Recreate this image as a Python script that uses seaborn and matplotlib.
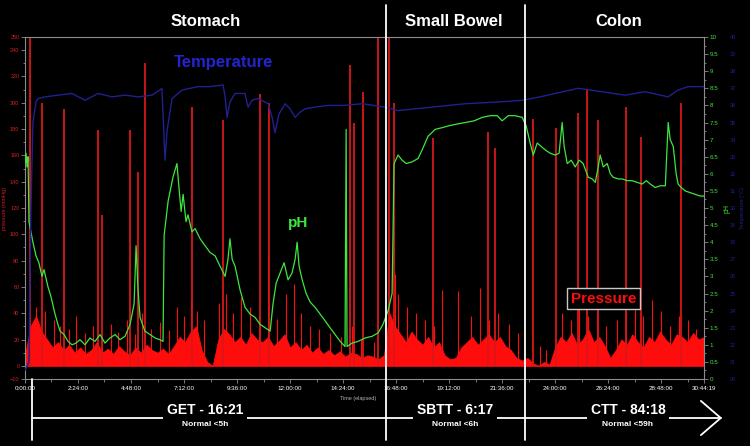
import numpy as np
import pandas as pd
import matplotlib.pyplot as plt
import seaborn as sns

# --------------------------------------
# DATA (time in hours)
# --------------------------------------

ph_time = [0, 0.05, 0.09, 0.14, 0.18, 0.27, 0.36, 0.50, 0.63, 0.77, 0.86, 1.04, 1.18, 1.36, 1.49,
           1.59, 1.77, 1.95, 2.13, 2.31, 2.49, 2.72, 2.94, 3.17, 3.40, 3.62, 3.85, 4.08, 4.30, 4.53,
           4.76, 4.94, 5.03, 5.12, 5.21, 5.43, 5.66, 5.89, 6.11, 6.25, 6.30, 6.48, 6.70, 6.88, 6.97,
           7.07, 7.16, 7.29, 7.38, 7.56, 7.70, 7.93, 8.15, 8.38, 8.61, 8.83, 9.06, 9.19, 9.28, 9.38,
           9.51, 9.74, 9.96, 10.19, 10.42, 10.64, 10.87, 11.10, 11.23, 11.37, 11.55, 11.73, 11.91,
           12.09, 12.23, 12.32, 12.41, 12.55, 12.73, 12.91, 13.13, 13.36, 13.59, 13.81, 14.04, 14.27,
           14.49, 14.54, 14.58, 14.81, 15.08, 15.40, 15.72, 15.99, 16.21, 16.44, 16.62, 16.71, 16.89,
           17.07, 17.26, 17.53, 17.80, 17.98, 18.25, 18.57, 18.89, 19.16, 19.52, 19.93, 20.34, 20.70,
           21.06, 21.38, 21.60, 21.88, 22.19, 22.51, 22.69, 22.87, 23.01, 23.19, 23.37, 23.55, 23.78,
           24.00, 24.18, 24.32, 24.41, 24.55, 24.73, 24.91, 25.09, 25.27, 25.50, 25.68, 25.82, 25.95,
           26.04, 26.18, 26.36, 26.50, 26.63, 26.86, 27.04, 27.26, 27.49, 27.72, 27.94, 28.13, 28.31,
           28.53, 28.76, 28.99, 29.12, 29.21, 29.35, 29.48, 29.57, 29.71, 29.89, 30.12, 30.34, 30.57,
           30.74]
ph_value = [6.3, 6.6, 6.2, 6.5, 4.6, 4.3, 4.0, 3.6, 3.4, 3.0, 3.2, 2.7, 2.4, 1.9, 1.6,
            1.4, 1.3, 1.1, 1.0, 1.05, 1.15, 1.0, 1.2, 1.1, 1.3, 1.05, 1.2, 1.3, 1.15, 1.25,
            1.6, 2.2, 3.9, 2.6, 1.8, 1.4, 1.3, 1.2, 1.15, 1.1, 4.2, 5.2, 5.9, 6.3, 5.6,
            4.9, 5.4, 4.6, 4.8, 4.3, 4.4, 4.1, 3.9, 3.7, 3.6, 3.3, 3.0, 3.5, 4.1, 3.5,
            3.3, 2.6, 2.1, 1.9, 1.8, 1.6, 1.5, 1.4, 2.2, 2.8, 3.1, 3.4, 2.9,
            3.1, 3.5, 4.0, 3.3, 2.9, 2.5, 2.25, 2.1, 1.9, 1.7, 1.5, 1.3, 1.1,
            0.95, 7.3, 0.95, 1.05, 1.1, 1.2, 1.25, 1.35, 1.6, 2.0, 2.5, 6.3, 6.55,
            6.4, 6.3, 6.35, 6.45, 6.7, 7.1, 7.3, 7.35, 7.4, 7.45, 7.5, 7.55, 7.65,
            7.7, 7.7, 7.55, 7.7, 7.7, 7.65, 7.4, 6.9, 6.55, 6.9, 6.8, 6.7, 6.6,
            6.55, 6.6, 7.5, 6.8, 6.3, 6.4, 6.2, 6.4, 6.3, 5.9, 5.85, 5.75, 6.2,
            6.55, 6.2, 6.3, 6.0, 5.9, 5.85, 5.85, 5.8, 5.8, 5.75, 5.7, 5.8, 5.7,
            5.6, 5.65, 5.65, 7.5, 7.0, 6.8, 6.0, 5.7, 5.6, 5.5, 5.45, 5.4, 5.35,
            5.35]

temp_time = [0, 0.18, 0.27, 0.36, 0.50, 0.59, 0.91, 1.49, 2.13, 2.72, 3.31, 3.94, 4.53, 5.12,
             5.75, 6.11, 6.20, 6.30, 6.34, 6.43, 6.66, 7.11, 7.84, 8.38, 8.97, 9.06, 9.15, 9.28,
             9.51, 9.96, 10.10, 10.28, 10.55, 11.01, 11.19, 11.32, 11.50, 11.78, 12.00, 12.23,
             12.45, 12.68, 13.13, 13.72, 14.49, 15.26, 16.30, 16.89, 17.66, 18.43, 19.93, 21.42,
             22.51, 23.32, 24.00, 25.05, 26.13, 27.17, 28.08, 29.12, 29.57, 30.03, 30.74]
temp_value = [20.5, 21.0, 30.0, 35.0, 36.2, 36.4, 36.5, 36.6, 36.7, 36.3, 36.7, 36.5, 36.6, 36.5,
              36.6, 36.9, 37.0, 34.0, 32.8, 34.5, 36.4, 36.9, 37.1, 37.1, 37.2, 36.5, 35.3, 36.2,
              36.7, 36.7, 35.9, 36.3, 36.4, 36.1, 35.3, 34.4, 35.5, 36.1, 35.8, 35.3,
              35.6, 35.8, 35.9, 36.0, 36.0, 36.1, 35.9, 35.7, 35.8, 35.9, 36.1, 36.2,
              36.3, 36.5, 36.7, 37.0, 36.8, 36.6, 36.8, 36.5, 36.9, 37.1, 37.1]

# pressure background activity, one value every 15 min
base_pressure = [8, 30, 38, 26, 20, 14, 18, 12, 16, 10, 14, 9, 12, 18, 10, 13,
                 9, 15, 11, 8, 14, 10, 16, 12, 10, 13, 9, 15, 22, 18, 26, 30,
                 12, 3, 0, 20, 28, 24, 18, 22, 16, 25, 20, 18, 22, 15, 19, 24,
                 14, 18, 12, 16, 10, 14, 9, 12, 8, 11, 7, 10, 9, 6, 8, 7,
                 5, 8, 40, 30, 24, 18, 26, 20, 16, 22, 14, 18, 8, 5, 6, 14,
                 18, 22, 16, 20, 24, 18, 22, 15, 12, 6, 4, 6, 2, 0, 3, 1,
                 14, 22, 18, 25, 16, 20, 28, 18, 22, 15, 6, 12, 20, 16, 24, 18,
                 14, 22, 18, 26, 20, 16, 24, 22, 18, 25, 20, 22]
base_time = np.arange(len(base_pressure)) * 0.25

# contractions
spike_time = [0.23, 0.77, 1.77, 3.31, 3.49, 4.76, 5.12, 5.43, 7.56, 8.97, 10.64, 11.05,
              14.72, 14.90, 15.31, 15.99, 16.49, 16.71, 18.48, 20.97, 21.29, 23.00,
              24.05, 25.05, 25.45, 25.95, 27.22, 27.90, 29.71]
spike_height = [250, 200, 195, 179, 115, 179, 147, 230, 197, 187, 207, 200,
                229, 185, 208, 249, 249, 200, 173, 178, 166, 188,
                181, 192, 210, 187, 197, 174, 200]

small_time = [0.5, 0.9, 1.3, 1.6, 2.0, 2.3, 2.7, 3.1, 3.5, 3.9, 4.2, 4.6, 5.0, 5.3, 5.7, 6.1,
              6.5, 6.9, 7.2, 7.5, 7.8, 8.1, 8.8, 9.1, 9.4, 9.8, 10.2, 10.6, 11.0, 11.4, 11.8,
              12.2, 12.5, 12.9, 13.3, 13.8, 14.3, 14.8, 15.2, 15.8, 16.75, 16.9, 17.3, 17.7,
              18.1, 18.5, 18.9, 19.6, 20.2, 20.6, 21.0, 21.4, 21.9, 22.3, 23.3, 23.6, 24.3,
              24.7, 25.1, 25.5, 25.9, 26.3, 26.8, 27.2, 27.6, 28.0, 28.4, 28.8, 29.2, 29.6,
              30.0, 30.4]
small_height = [45, 42, 35, 30, 28, 38, 25, 30, 22, 32, 26, 35, 24, 40, 28, 33,
                27, 45, 38, 50, 42, 35, 48, 55, 40, 52, 45, 38, 84, 36, 55,
                62, 40, 30, 28, 25, 22, 30, 20, 18, 70, 55, 45, 40,
                35, 30, 58, 57, 38, 59, 35, 40, 32, 25, 15, 12, 40,
                35, 45, 38, 42, 30, 35, 40, 52, 38, 50, 42, 30, 38,
                35, 28]

phase_names = ["Stomach", "Small Bowel", "Colon"]
phase_ends = [16.35, 22.63]
transit_labels = ["GET - 16:21", "SBTT - 6:17", "CTT - 84:18"]
normal_labels = ["Normal <5h", "Normal <6h", "Normal <59h"]

x_ticks = [0, 2.4, 4.8, 7.2, 9.6, 12.0, 14.4, 16.8, 19.2, 21.6, 24.0, 26.4, 28.8, 30.7386]
x_tick_labels = ["0:00:00", "2:24:00", "4:48:00", "7:12:00", "9:36:00", "12:00:00", "14:24:00",
                 "16:48:00", "19:12:00", "21:36:00", "24:00:00", "26:24:00", "28:48:00", "30:44:19"]
p_ticks = [-10, 0, 20, 40, 60, 80, 100, 120, 140, 160, 180, 200, 220, 240, 250]

ph_df = pd.DataFrame({"time": ph_time, "pH": ph_value})
temp_df = pd.DataFrame({"time": temp_time, "temp": temp_value})

# --------------------------------------
# STYLE
# --------------------------------------

sns.set_theme(style="dark", rc={"axes.facecolor": "black", "figure.facecolor": "black"})
plt.rcParams["font.family"] = ["Liberation Sans Narrow", "Liberation Sans", "DejaVu Sans"]

RED = "#ff0d0d"
GREEN = "#3ee63e"
BLUE = "#202090"
GREY = "#8c8c8c"

fig = plt.figure(figsize=(7.5, 4.46), dpi=100)
ax = fig.add_axes([0.0333, 0.1502, 0.9053, 0.7668])
ax.set_facecolor("black")
ax2 = ax.twinx()
ax3 = ax.twinx()

# --------------------------------------
# PRESSURE
# --------------------------------------

ax.fill_between(base_time, 0, base_pressure, color=RED, lw=0.6, edgecolor=RED, zorder=2)
ax.vlines(small_time, 0, small_height, color=RED, lw=0.8, zorder=2)
ax.vlines(spike_time, 0, spike_height, color="#d91818", lw=1.3, zorder=2)

ax.set_xlim(0, 30.7386)
ax.set_ylim(-10, 250)
ax.set_xticks(x_ticks)
ax.set_xticklabels(x_tick_labels)
ax.set_xticks(np.arange(1.2, 30.7, 2.4), minor=True)
ax.set_yticks(p_ticks)
ax.set_yticks(np.arange(-10, 251, 10), minor=True)
ax.tick_params(axis="x", which="both", colors=GREY, labelcolor="white", labelsize=4.5,
               length=3, width=0.6, pad=2, bottom=True)
ax.tick_params(axis="x", which="minor", length=2)
ax.tick_params(axis="y", which="both", colors=GREY, labelcolor="#d42020", labelsize=4,
               length=3, width=0.6, pad=1, left=True)
ax.tick_params(axis="y", which="minor", length=1.5)
ax.set_ylabel("pressure (mmHg)", color="#d42020", fontsize=4, labelpad=2)
ax.set_xlabel("Time (elapsed)", color="#b0b0b0", fontsize=4, labelpad=0)
ax.xaxis.set_label_coords(0.49, -0.05)
for s in ["left", "bottom", "top"]:
    ax.spines[s].set_color(GREY)
    ax.spines[s].set_linewidth(0.8)
ax.spines["right"].set_visible(False)
ax.grid(False)

# --------------------------------------
# pH
# --------------------------------------

sns.lineplot(data=ph_df, x="time", y="pH", ax=ax2, color=GREEN, lw=0.9,
             sort=False, estimator=None)
ax2.set_ylim(0, 10)
ax2.set_yticks(np.arange(0, 10.01, 0.5))
ax2.set_yticklabels([f"{v:g}" for v in np.arange(0, 10.01, 0.5)])
ax2.set_yticks(np.arange(0, 10.01, 0.25), minor=True)
ax2.tick_params(axis="y", which="both", colors=GREY, labelcolor=GREEN, labelsize=4.5,
                length=3, width=0.6, pad=1, right=True)
ax2.tick_params(axis="y", which="minor", length=1.5)
ax2.set_ylabel("pH", color=GREEN, fontsize=5, labelpad=4)
ax2.set_xlabel("")
for s in ["left", "bottom", "top"]:
    ax2.spines[s].set_visible(False)
ax2.spines["right"].set_color(GREY)
ax2.spines["right"].set_linewidth(0.8)
ax2.grid(False)

# --------------------------------------
# TEMPERATURE
# --------------------------------------

sns.lineplot(data=temp_df, x="time", y="temp", ax=ax3, color=BLUE, lw=1.0,
             sort=False, estimator=None)
ax3.set_ylim(20, 40)
ax3.set_yticks(np.arange(20, 40.1, 1))
ax3.spines["right"].set_position(("axes", 1.036))
for s in ["left", "bottom", "top", "right"]:
    ax3.spines[s].set_visible(False)
ax3.tick_params(axis="y", colors=BLUE, labelcolor=BLUE, labelsize=4, length=0, pad=1, right=True)
ax3.set_ylabel("Temperature (°C)", color=BLUE, fontsize=4, labelpad=3)
ax3.set_xlabel("")
ax3.set_xlim(0, 30.7386)
ax3.grid(False)

# --------------------------------------
# ANNOTATIONS
# --------------------------------------

ax3.text(9.0, 38.5, "Temperature", color="#2424d0", fontsize=12, fontweight="bold",
         ha="center", va="center", zorder=6)
ax2.text(12.36, 4.55, "pH", color=GREEN, fontsize=11, fontweight="bold",
         ha="center", va="center", zorder=6)
ax3.text(26.2, 24.7, "Pressure", color=RED, fontsize=11, fontweight="bold",
         ha="center", va="center", zorder=6,
         bbox=dict(facecolor="black", edgecolor="#c8c8c8", lw=1, pad=2.5))

trans = ax3.get_xaxis_transform()
for b in phase_ends:
    ax3.plot([b, b], [-0.178, 1.094], transform=trans, color="white", lw=1.3,
             clip_on=False, zorder=7)
ax3.plot([0.32, 0.32], [0, -0.178], transform=trans, color="white", lw=1.3,
         clip_on=False, zorder=7)
ax3.plot([0.32, 31.5], [-0.114, -0.114], transform=trans, color="white", lw=1.3,
         clip_on=False, zorder=5)
ax3.plot([30.6, 31.5, 30.6], [-0.064, -0.114, -0.164], transform=trans, color="white",
         lw=1.3, clip_on=False, zorder=5)

for name, xc in zip(phase_names, [8.2, 19.4, 26.9]):
    ax3.text(xc, 1.044, name, transform=trans, color="white", fontsize=12,
             fontweight="bold", ha="center", va="center")

for lab, norm, xc in zip(transit_labels, normal_labels, [8.15, 19.47, 27.3]):
    ax3.text(xc, -0.092, lab, transform=trans, color="white", fontsize=10,
             fontweight="bold", ha="center", va="center", zorder=6,
             bbox=dict(facecolor="black", edgecolor="none", pad=2.5))
    ax3.text(xc, -0.132, norm, transform=trans, color="white", fontsize=6,
             fontweight="bold", ha="center", va="center", zorder=6,
             bbox=dict(facecolor="black", edgecolor="none", pad=1.5))

plt.savefig("out.png", dpi=100, facecolor="black")
